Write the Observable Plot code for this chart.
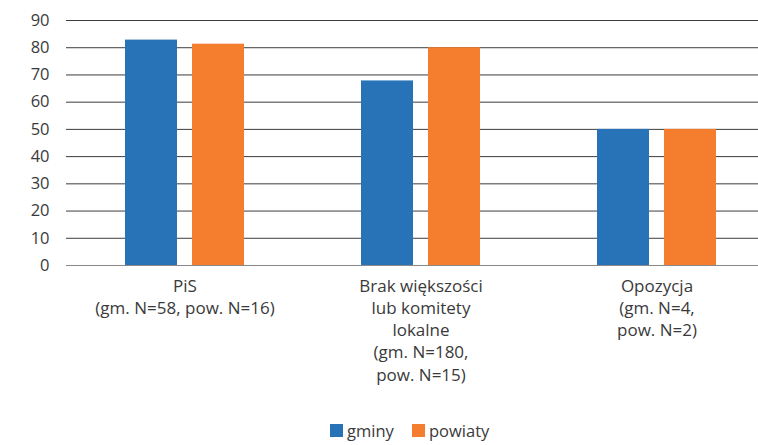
<!DOCTYPE html>
<html>
<head>
<meta charset="utf-8">
<script src="https://cdn.jsdelivr.net/npm/d3@7"></script>
<script src="https://cdn.jsdelivr.net/npm/@observablehq/plot@0.6"></script>
<style>
  html, body { margin: 0; padding: 0; background: #fff; }
  #chart { width: 758px; }
  .legend { position: relative; height: 30px; font-family: "Open Sans", Lato, sans-serif; font-size: 16.5px; color: #3a3a3a; }
  .legend .item { position: absolute; top: 4px; display: flex; align-items: center; }
  .legend .sw { width: 13px; height: 13px; margin-right: 4px; }
</style>
</head>
<body>
<div id="chart"></div>
<script>
const categories = ["PiS", "Brak większości lub komitety lokalne", "Opozycja"];
const categoryLabels = [
  "PiS\n(gm. N=58, pow. N=16)",
  "Brak większości\nlub komitety\nlokalne\n(gm. N=180,\npow. N=15)",
  "Opozycja\n(gm. N=4,\npow. N=2)"
];
const seriesNames = ["gminy", "powiaty"];
const gminy = [82.8, 67.8, 50];
const powiaty = [81.3, 80.0, 50];
const yTicks = [0, 10, 20, 30, 40, 50, 60, 70, 80, 90];
const colors = ["#2873b8", "#f47d2e"];

const rows = [];
categories.forEach((c, i) => {
  rows.push({cat: c, series: seriesNames[0], value: gminy[i]});
  rows.push({cat: c, series: seriesNames[1], value: powiaty[i]});
});
const labelRows = categories.map((c, i) => ({cat: c, label: categoryLabels[i]}));

const font = "'Open Sans', Lato, sans-serif";
const W = 758, H = 415;

const plot = Plot.plot({
  width: W,
  height: H,
  marginTop: 20,
  marginBottom: 150,
  marginLeft: 66,
  marginRight: 0,
  style: {fontFamily: font, fontSize: "17px", color: "#3a3a3a", background: "#fff"},
  x: {domain: categories, range: [66, 774], paddingInner: 0.496, paddingOuter: 0.248, axis: null},
  y: {domain: [0, 90], ticks: yTicks, label: null},
  color: {domain: seriesNames, range: colors},
  marks: [
    Plot.ruleY(yTicks.filter(t => t > 0), {stroke: "#3c3c3c", strokeWidth: 1}),
    Plot.axisY({ticks: yTicks, tickSize: 0, tickPadding: 17, label: null, fontSize: 16.5, fill: "#3a3a3a"}),
    Plot.barY(rows.filter(r => r.series === "gminy"), {x: "cat", y: "value", fill: "series", insetRight: 67}),
    Plot.barY(rows.filter(r => r.series === "powiaty"), {x: "cat", y: "value", fill: "series", insetLeft: 67}),
    Plot.ruleY([0], {stroke: "#8a8a8a", strokeWidth: 1.2}),
    Plot.text(labelRows, {x: "cat", y: () => 0, text: "label", lineAnchor: "top", dy: 11, lineHeight: 1.3, fontSize: 17, fill: "#3a3a3a"})
  ]
});
document.getElementById("chart").appendChild(plot);

const legend = document.createElement("div");
legend.className = "legend";
const positions = [330, 412];
seriesNames.forEach((s, i) => {
  const item = document.createElement("div");
  item.className = "item";
  item.style.left = positions[i] + "px";
  const sw = document.createElement("span");
  sw.className = "sw";
  sw.style.background = colors[i];
  const t = document.createElement("span");
  t.textContent = s;
  item.appendChild(sw);
  item.appendChild(t);
  legend.appendChild(item);
});
document.getElementById("chart").appendChild(legend);
</script>
</body>
</html>
